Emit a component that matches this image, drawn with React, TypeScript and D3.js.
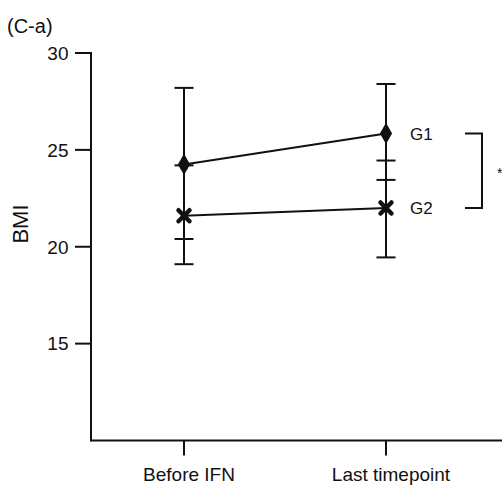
import React from "react";
import * as d3 from "d3";

const categories = ["Before IFN", "Last timepoint"];
const g1Mean = [24.25, 25.85];
const g1Upper = [28.2, 28.4];
const g1Lower = [20.4, 23.45];
const g2Mean = [21.6, 22.0];
const g2Upper = [24.2, 24.45];
const g2Lower = [19.1, 19.45];
const yTicks = [15, 20, 25, 30];
const seriesLabels = ["G1", "G2"];

const W = 502;
const H = 489;
const INK = "#111";
const FONT = "'Liberation Sans', Arial, Helvetica, sans-serif";

export default function App() {
  const y = d3.scaleLinear().domain([10, 30]).range([440.5, 53]);
  const x = d3.scalePoint<string>().domain(categories).range([184, 386]);
  const axisX = 91;
  const axisY = y(10);
  const line = d3
    .line<number>()
    .x((_, i) => x(categories[i]) as number)
    .y((d) => y(d));

  const capW = 9.5;
  const errBars = (means: number[], up: number[], lo: number[], key: string) =>
    means.map((_, i) => {
      const cx = x(categories[i]) as number;
      return (
        <g key={key + i} stroke={INK} strokeWidth={2}>
          <line x1={cx} x2={cx} y1={y(up[i])} y2={y(lo[i])} />
          <line x1={cx - capW} x2={cx + capW} y1={y(up[i])} y2={y(up[i])} />
          <line x1={cx - capW} x2={cx + capW} y1={y(lo[i])} y2={y(lo[i])} />
        </g>
      );
    });

  const diamond = d3.symbol().type(d3.symbolDiamond).size(130)() as string;

  const lastX = x(categories[1]) as number;
  const brTop = y(g1Mean[1]);
  const brBot = y(g2Mean[1]);

  return (
    <svg
      width={W}
      height={H}
      style={{ position: "absolute", left: 0, top: 0, background: "#fff" }}
      fontFamily={FONT}
    >
      <rect width={W} height={H} fill="#fff" />
      <text x={7} y={33} fontSize={20} fill={INK}>(C-a)</text>

      {/* y axis */}
      <line x1={axisX} x2={axisX} y1={y(30)} y2={axisY + 1} stroke={INK} strokeWidth={2} />
      {yTicks.map((t) => (
        <g key={t}>
          <line x1={axisX - 16} x2={axisX + 1} y1={y(t)} y2={y(t)} stroke={INK} strokeWidth={2} />
          <text x={68.5} y={y(t)} dy="0.36em" textAnchor="end" fontSize={19} fill={INK}>
            {t}
          </text>
        </g>
      ))}
      <text
        transform={`translate(28, 224) rotate(-90)`}
        textAnchor="middle"
        fontSize={22}
        fill={INK}
      >
        BMI
      </text>

      {/* x axis */}
      <line x1={axisX} x2={W} y1={axisY} y2={axisY} stroke={INK} strokeWidth={2} />
      {categories.map((c) => (
        <g key={c}>
          <line x1={x(c)} x2={x(c)} y1={axisY} y2={axisY + 15} stroke={INK} strokeWidth={2} />
          <text x={(x(c) as number) + 5} y={481} textAnchor="middle" fontSize={19} fill={INK}>
            {c}
          </text>
        </g>
      ))}

      {/* error bars */}
      {errBars(g1Mean, g1Upper, g1Lower, "g1")}
      {errBars(g2Mean, g2Upper, g2Lower, "g2")}

      {/* lines */}
      <path d={line(g1Mean) as string} fill="none" stroke={INK} strokeWidth={2} />
      <path d={line(g2Mean) as string} fill="none" stroke={INK} strokeWidth={2} />

      {/* markers */}
      {g1Mean.map((v, i) => (
        <path
          key={"d" + i}
          d={diamond}
          transform={`translate(${x(categories[i])},${y(v)})`}
          fill={INK}
        />
      ))}
      {g2Mean.map((v, i) => {
        const cx = x(categories[i]) as number;
        const cy = y(v);
        const s = 5.5;
        return (
          <g key={"x" + i} stroke={INK} strokeWidth={4.5} strokeLinecap="round">
            <line x1={cx - s} y1={cy - s} x2={cx + s} y2={cy + s} />
            <line x1={cx - s} y1={cy + s} x2={cx + s} y2={cy - s} />
          </g>
        );
      })}

      {/* series labels */}
      <text x={410} y={y(g1Mean[1])} dy="0.36em" fontSize={17} fill={INK}>
        {seriesLabels[0]}
      </text>
      <text x={410} y={y(g2Mean[1])} dy="0.36em" fontSize={17} fill={INK}>
        {seriesLabels[1]}
      </text>

      {/* significance bracket */}
      <path
        d={`M${lastX + 79},${brTop} H${lastX + 96} V${brBot} H${lastX + 79}`}
        fill="none"
        stroke={INK}
        strokeWidth={2}
      />
      <text x={497} y={178} fontSize={14} fill={INK}>*</text>
    </svg>
  );
}
